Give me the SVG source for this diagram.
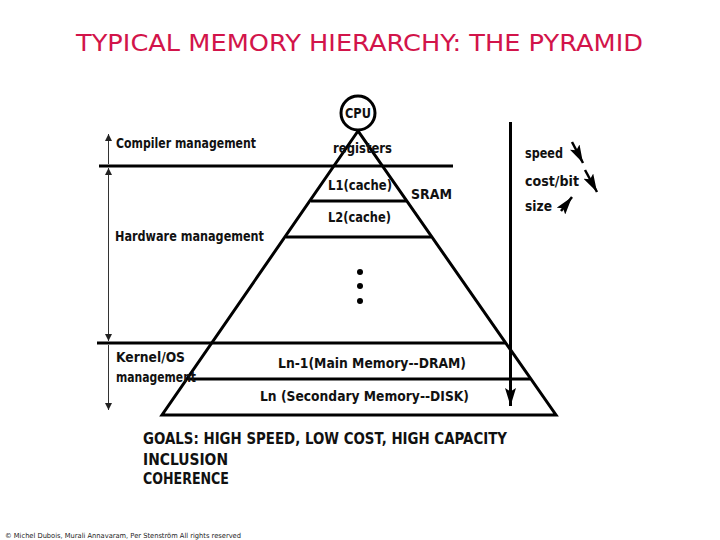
<svg xmlns="http://www.w3.org/2000/svg" width="720" height="540" viewBox="0 0 720 540">
<style>
.t{font-family:"DejaVu Sans","Liberation Sans",sans-serif;fill:#111;font-weight:bold}
.lbl{font-size:14px}
.goal{font-size:15px}
.thick{stroke:#000;stroke-width:3;fill:none}
.thin{stroke:#333;stroke-width:1;fill:none}
</style>
<defs>
<marker id="ah" viewBox="0 0 10 10" refX="10" refY="5" markerWidth="7" markerHeight="7" markerUnits="userSpaceOnUse" orient="auto-start-reverse">
<path d="M0,0 L10,5 L0,10 z" fill="#222"/>
</marker>
<marker id="big" viewBox="0 0 10 10" refX="10" refY="5" markerWidth="18" markerHeight="11" markerUnits="userSpaceOnUse" orient="auto" preserveAspectRatio="none">
<path d="M0,0 L10,5 L0,10 L2,5 z" fill="#000"/>
</marker>
</defs>
<rect width="720" height="540" fill="#fff"/>
<text x="76" y="51" font-family="DejaVu Sans,Liberation Sans,sans-serif" font-size="23" fill="#d2144a" textLength="567" lengthAdjust="spacingAndGlyphs">TYPICAL MEMORY HIERARCHY: THE PYRAMID</text>

<g id="pyramid">
<path class="thick" d="M358,131 L162,415 L556,415 Z"/>
<line class="thick" x1="99" y1="166" x2="453" y2="166"/>
<line class="thick" x1="311" y1="201" x2="406" y2="201"/>
<line class="thick" x1="286" y1="237" x2="431" y2="237"/>
<line class="thick" x1="97" y1="343" x2="505" y2="343"/>
<line class="thick" x1="188" y1="379" x2="530" y2="379"/>
</g>

<g id="cpu">
<circle cx="358" cy="113" r="17" fill="#fff" stroke="#000" stroke-width="3"/>
<text class="t lbl" x="358" y="118" text-anchor="middle" textLength="26" lengthAdjust="spacingAndGlyphs">CPU</text>
</g>
<g id="registers"><text class="t lbl" x="333" y="153" textLength="59" lengthAdjust="spacingAndGlyphs">registers</text></g>
<g id="l1"><text class="t lbl" x="328" y="190" textLength="64" lengthAdjust="spacingAndGlyphs">L1(cache)</text></g>
<g id="sram"><text class="t lbl" x="411" y="199" textLength="41" lengthAdjust="spacingAndGlyphs">SRAM</text></g>
<g id="l2"><text class="t lbl" x="328" y="222" textLength="63" lengthAdjust="spacingAndGlyphs">L2(cache)</text></g>
<g id="dots">
<circle cx="360" cy="272" r="3" fill="#000"/>
<circle cx="360" cy="286" r="3" fill="#000"/>
<circle cx="360" cy="301" r="3" fill="#000"/>
</g>
<g id="ln1"><text class="t lbl" x="278" y="368" textLength="188" lengthAdjust="spacingAndGlyphs">Ln-1(Main Memory--DRAM)</text></g>
<g id="ln"><text class="t lbl" x="260" y="401" textLength="209" lengthAdjust="spacingAndGlyphs">Ln (Secondary Memory--DISK)</text></g>

<g id="compiler"><text class="t lbl" x="116" y="148" textLength="140" lengthAdjust="spacingAndGlyphs">Compiler management</text></g>
<g id="hardware"><text class="t lbl" x="115" y="241" textLength="149" lengthAdjust="spacingAndGlyphs">Hardware management</text></g>
<g id="kernel">
<text class="t lbl" x="116" y="362" textLength="69" lengthAdjust="spacingAndGlyphs">Kernel/OS</text>
<text class="t lbl" x="116" y="382" textLength="80" lengthAdjust="spacingAndGlyphs">management</text>
</g>

<g id="speed"><text class="t lbl" x="525" y="158" textLength="38" lengthAdjust="spacingAndGlyphs">speed</text></g>
<g id="cost"><text class="t lbl" x="525" y="186" textLength="54" lengthAdjust="spacingAndGlyphs">cost/bit</text></g>
<g id="size"><text class="t lbl" x="525" y="211" textLength="27" lengthAdjust="spacingAndGlyphs">size</text></g>

<g id="goals">
<text class="t goal" x="143" y="444" textLength="364" lengthAdjust="spacingAndGlyphs">GOALS: HIGH SPEED, LOW COST, HIGH CAPACITY</text>
<text class="t goal" x="143" y="465" textLength="85" lengthAdjust="spacingAndGlyphs">INCLUSION</text>
<text class="t goal" x="143" y="484" textLength="86" lengthAdjust="spacingAndGlyphs">COHERENCE</text>
</g>

<g id="connectors">
<line class="thin" x1="108.5" y1="164" x2="108.5" y2="134" marker-end="url(#ah)"/>
<line class="thin" x1="108.5" y1="168" x2="108.5" y2="341" marker-start="url(#ah)" marker-end="url(#ah)"/>
<line class="thin" x1="108.5" y1="345" x2="108.5" y2="410" marker-end="url(#ah)"/>
<line x1="510.5" y1="122" x2="510.5" y2="406" stroke="#000" stroke-width="3" marker-end="url(#big)"/>
<line x1="572" y1="142" x2="583" y2="163" stroke="#000" stroke-width="2.5" marker-end="url(#big)"/>
<line x1="585" y1="170" x2="597" y2="192" stroke="#000" stroke-width="2.5" marker-end="url(#big)"/>
<line x1="561" y1="211" x2="572" y2="197" stroke="#000" stroke-width="2.5" marker-end="url(#big)"/>
</g>

<text x="5" y="538" font-family="DejaVu Sans,Liberation Sans,sans-serif" font-size="7" fill="#222" textLength="236" lengthAdjust="spacingAndGlyphs">© Michel Dubois, Murali Annavaram, Per Stenström All rights reserved</text>
</svg>
